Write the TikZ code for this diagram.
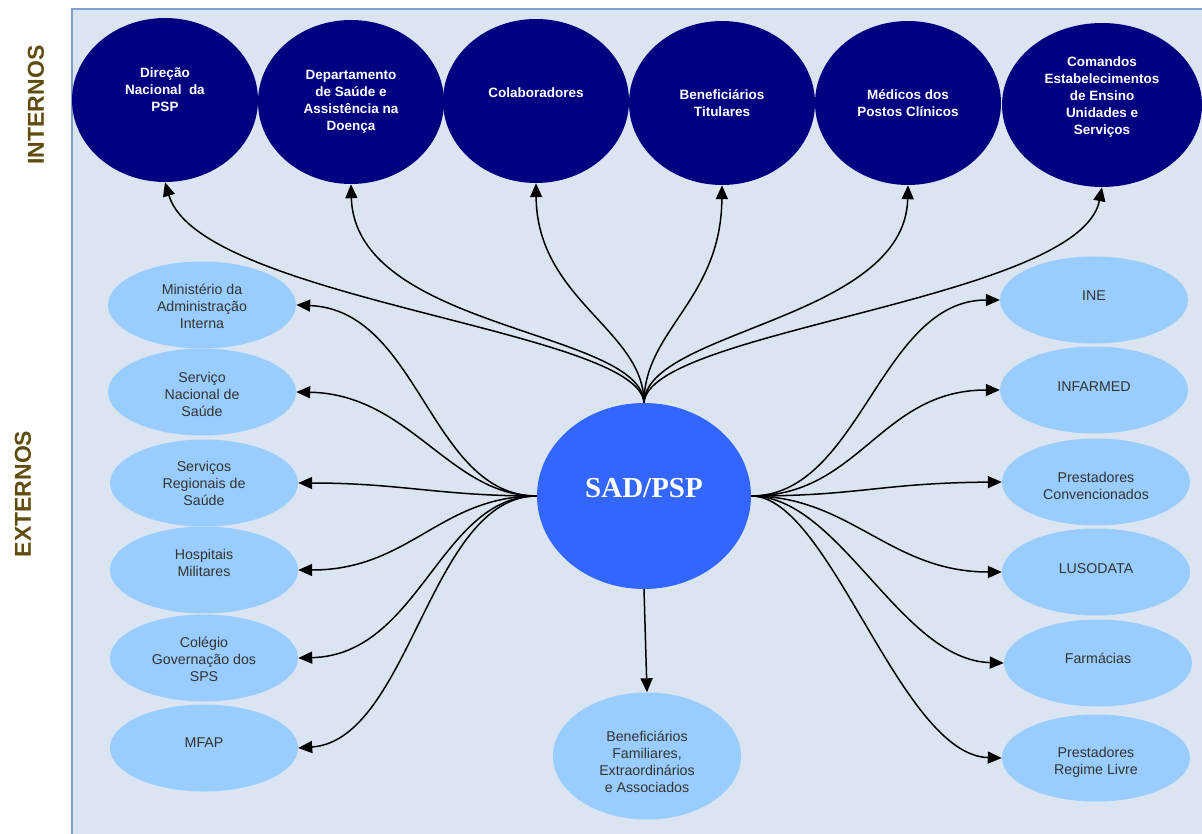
\documentclass[tikz,border=0pt]{standalone}
\usepackage{fontspec}
\setmainfont{Liberation Sans}
\newfontfamily\serifbold{Liberation Serif}
\usetikzlibrary{shapes.geometric,arrows.meta}
\definecolor{bgpanel}{HTML}{DBE5F1}
\definecolor{framecol}{HTML}{7F9FCF}
\definecolor{navy}{HTML}{000080}
\definecolor{lightb}{HTML}{99CCFF}
\definecolor{sadblue}{HTML}{3366FF}
\definecolor{txtgray}{HTML}{333333}
\definecolor{sidelab}{RGB}{96,76,14}
\tikzset{
  innerell/.style={ellipse, fill=navy, draw=none, inner sep=0pt, minimum width=186pt, minimum height=164pt},
  outerell/.style={ellipse, fill=lightb, draw=none, inner sep=0pt, minimum width=188pt, minimum height=87pt},
  wtxt/.style={align=center, text=white, font=\bfseries\fontsize{13.5}{17}\selectfont, inner sep=0pt},
  dtxt/.style={align=center, text=txtgray, font=\fontsize{14.2}{17}\selectfont, inner sep=0pt},
  arr/.style={draw=black, line width=1.5pt, -{Triangle[length=14pt,width=12pt]}},
  sidetxt/.style={rotate=90, text=sidelab, font=\bfseries\fontsize{23}{28}\selectfont, inner sep=0pt}
}
\begin{document}
\begin{tikzpicture}[x=1pt,y=-1pt]
\useasboundingbox (0,0) rectangle (1202,834);
\fill[white] (0,0) rectangle (1202,834);
\fill[bgpanel] (72,9) rectangle (1202,834);
\draw[framecol, line width=1.2pt] (72,834) -- (72,9) -- (1202,9);

\node[sidetxt] (intl) at (36,105) {INTERNOS};
\node[sidetxt] (extl) at (23,494) {EXTERNOS};

% internal ellipses
\node[innerell] (dir) at (165,100) {};
\node[innerell] (dep) at (351,102) {};
\node[innerell] (col) at (536,101) {};
\node[innerell] (ben) at (722,103) {};
\node[innerell] (med) at (908,103) {};
\node[innerell, minimum width=200pt] (com) at (1102,105) {};

\node[wtxt] (dirT) at (165,90) {Direção\\Nacional\ \ da\\PSP};
\node[wtxt] (depT) at (351,102) {Departamento\\de Saúde e\\Assistência na\\Doença};
\node[wtxt] (colT) at (536,93) {Colaboradores};
\node[wtxt] (benT) at (722,103) {Beneficiários\\Titulares};
\node[wtxt] (medT) at (908,103) {Médicos dos\\Postos Clínicos};
\node[wtxt] (comT) at (1102,97) {Comandos\\Estabelecimentos\\de Ensino\\Unidades e\\Serviços};

% left external
\node[outerell] (min) at (202,305) {};
\node[outerell] (snh) at (202,392) {};
\node[outerell] (srs) at (204,483) {};
\node[outerell] (hos) at (204,570) {};
\node[outerell] (cgs) at (204,658) {};
\node[outerell] (mfa) at (204,748) {};

\node[dtxt] (minT) at (202,306) {Ministério da\\Administração\\Interna};
\node[dtxt] (snhT) at (202,394) {Serviço\\Nacional de\\Saúde};
\node[dtxt] (srsT) at (204,483) {Serviços\\Regionais de\\Saúde};
\node[dtxt] (hosT) at (204,563) {Hospitais\\Militares};
\node[dtxt] (cgsT) at (204,659) {Colégio\\Governação dos\\SPS};
\node[dtxt] (mfaT) at (204,743) {MFAP};

% right external
\node[outerell] (ine) at (1094,300) {};
\node[outerell] (inf) at (1094,390) {};
\node[outerell] (pcv) at (1096,482) {};
\node[outerell] (lus) at (1096,572) {};
\node[outerell] (far) at (1098,663) {};
\node[outerell] (prl) at (1096,758) {};

\node[dtxt] (ineT) at (1094,296) {INE};
\node[dtxt] (infT) at (1094,387) {INFARMED};
\node[dtxt] (pcvT) at (1096,486) {Prestadores\\Convencionados};
\node[dtxt] (lusT) at (1096,569) {LUSODATA};
\node[dtxt] (farT) at (1098,658) {Farmácias};
\node[dtxt] (prlT) at (1096,762) {Prestadores\\Regime Livre};

% bottom
\node[outerell, minimum height=127pt] (bfa) at (647,756) {};
\node[dtxt] (bfaT) at (647,762) {Beneficiários\\Familiares,\\Extraordinários\\e Associados};

% centre
\node[ellipse, fill=sadblue, inner sep=0pt, minimum width=214pt, minimum height=186pt] (sad) at (644,496) {};
\node[text=white, font=\serifbold\bfseries\fontsize{29}{32}\selectfont, inner sep=0pt] (sadT) at (644,488) {SAD/PSP};

% top fan
\draw[arr] (sad.north) .. controls (640,330) and (200,300) .. (dir.south);
\draw[arr] (sad.north) .. controls (642,330) and (355,330) .. (dep.south);
\draw[arr] (sad.north) .. controls (644,330) and (537,300) .. (col.south);
\draw[arr] (sad.north) .. controls (644,330) and (721,300) .. (ben.south);
\draw[arr] (sad.north) .. controls (646,330) and (905,320) .. (med.south);
\draw[arr] (sad.north) .. controls (648,330) and (1080,300) .. (com.south);

% left fan
\draw[arr] (sad.west) .. controls (430,496) and (420,310) .. (min.east);
\draw[arr] (sad.west) .. controls (450,496) and (410,394) .. (snh.east);
\draw[arr] (sad.west) .. controls (440,496) and (400,483) .. (srs.east);
\draw[arr] (sad.west) .. controls (440,496) and (410,570) .. (hos.east);
\draw[arr] (sad.west) .. controls (440,496) and (420,655) .. (cgs.east);
\draw[arr] (sad.west) .. controls (430,496) and (410,740) .. (mfa.east);

% right fan
\draw[arr] (sad.east) .. controls (860,496) and (880,300) .. (ine.west);
\draw[arr] (sad.east) .. controls (860,496) and (880,390) .. (inf.west);
\draw[arr] (sad.east) .. controls (860,496) and (880,483) .. (pcv.west);
\draw[arr] (sad.east) .. controls (850,496) and (890,572) .. (lus.west);
\draw[arr] (sad.east) .. controls (840,496) and (900,660) .. (far.west);
\draw[arr] (sad.east) .. controls (830,496) and (900,755) .. (prl.west);

% bottom
\draw[arr] (sad.south) -- (bfa.north);
\end{tikzpicture}
\end{document}
